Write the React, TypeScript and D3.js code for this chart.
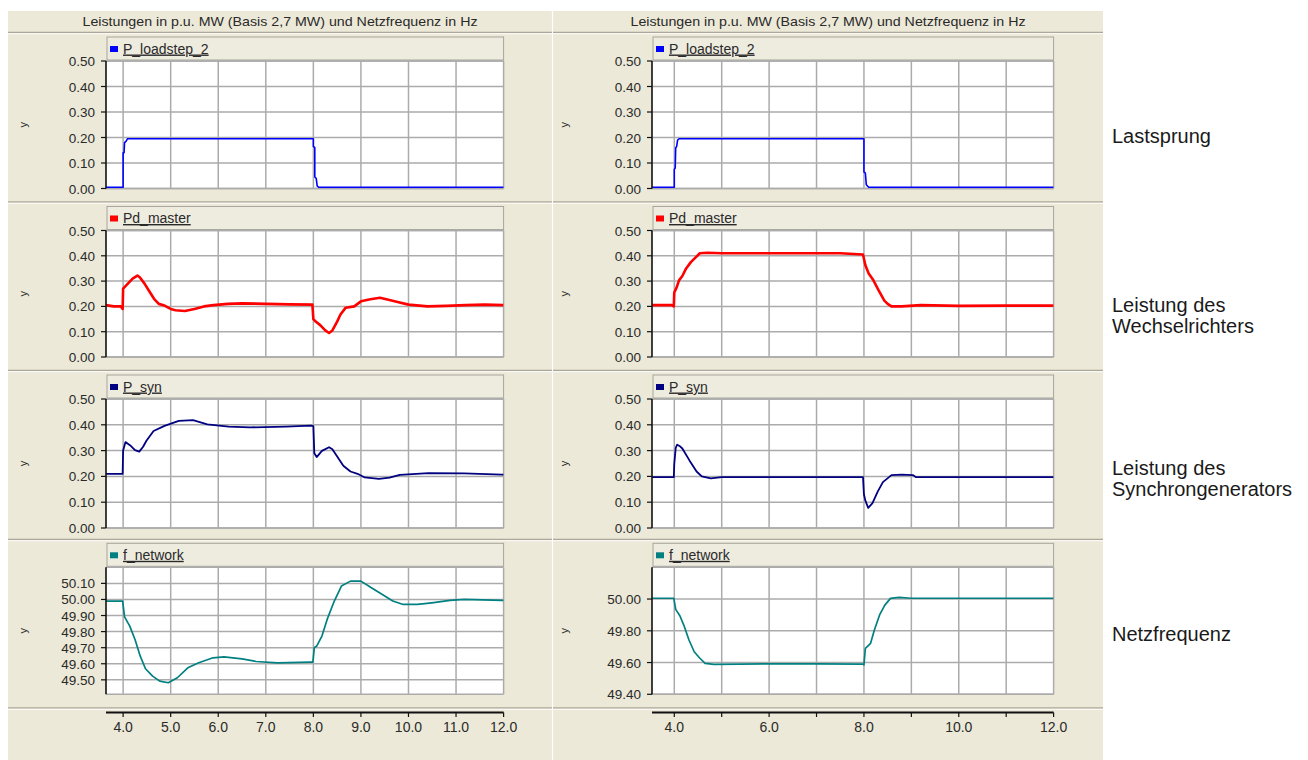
import React from "react";
import * as d3 from "d3";

const headerTitle = "Leistungen in p.u. MW (Basis 2,7 MW) und Netzfrequenz in Hz";
const seriesNames = ["P_loadstep_2", "Pd_master", "P_syn", "f_network"];
const seriesColors = ["#0000FF", "#FF0000", "#000080", "#008080"];
const seriesWidths = [1.6, 2.6, 1.8, 1.7];
const rowLabels = [
  ["Lastsprung"],
  ["Leistung des", "Wechselrichters"],
  ["Leistung des", "Synchrongenerators"],
  ["Netzfrequenz"],
];
const powerTicks = [0, 0.1, 0.2, 0.3, 0.4, 0.5];
const freqTicksLeft = [49.5, 49.6, 49.7, 49.8, 49.9, 50.0, 50.1];
const freqTicksRight = [49.4, 49.6, 49.8, 50.0];
const xGridTicks = [4, 5, 6, 7, 8, 9, 10, 11, 12];
const xLabelsLeft = [4, 5, 6, 7, 8, 9, 10, 11, 12];
const xLabelsRight = [4, 6, 8, 10, 12];

type P = [number, number];

const loadstepLeft: P[] = [[3.64,0.005],[4.0,0.005],[4.0,0.14],[4.02,0.14],[4.03,0.18],[4.06,0.185],[4.09,0.195],[8.0,0.195],[8.0,0.165],[8.03,0.16],[8.03,0.045],[8.06,0.04],[8.08,0.01],[8.11,0.005],[12,0.005]];
const loadstepRight: P[] = [[3.53,0.005],[4.0,0.005],[4.0,0.075],[4.02,0.08],[4.03,0.16],[4.05,0.165],[4.07,0.19],[4.1,0.195],[8.0,0.195],[8.0,0.065],[8.03,0.06],[8.05,0.015],[8.1,0.005],[12,0.005]];

const pdLeft: P[] = [[3.64,0.205],[3.8,0.2],[3.95,0.2],[3.99,0.19],[4.0,0.27],[4.05,0.28],[4.1,0.29],[4.2,0.31],[4.3,0.322],[4.35,0.315],[4.45,0.29],[4.55,0.26],[4.65,0.23],[4.75,0.21],[4.85,0.205],[5.0,0.19],[5.1,0.185],[5.3,0.182],[5.5,0.19],[5.7,0.2],[5.9,0.205],[6.2,0.21],[6.5,0.212],[7.0,0.21],[7.5,0.208],[7.98,0.207],[8.0,0.15],[8.05,0.14],[8.15,0.125],[8.25,0.105],[8.33,0.095],[8.4,0.105],[8.5,0.14],[8.57,0.168],[8.68,0.195],[8.86,0.2],[9.0,0.22],[9.2,0.228],[9.4,0.234],[9.6,0.225],[9.75,0.218],[10.0,0.207],[10.4,0.2],[10.8,0.202],[11.2,0.205],[11.6,0.207],[12,0.205]];
const pdRight: P[] = [[3.53,0.205],[3.95,0.205],[3.99,0.2],[4.0,0.255],[4.05,0.275],[4.1,0.303],[4.17,0.32],[4.25,0.35],[4.35,0.375],[4.43,0.39],[4.54,0.41],[4.7,0.412],[5.0,0.41],[6.0,0.41],[7.0,0.41],[7.5,0.41],[7.98,0.405],[8.03,0.363],[8.1,0.33],[8.2,0.303],[8.31,0.263],[8.43,0.223],[8.5,0.21],[8.58,0.2],[8.8,0.2],[9.2,0.205],[10,0.202],[11,0.203],[12,0.203]];

const synLeft: P[] = [[3.64,0.21],[3.99,0.21],[4.0,0.3],[4.05,0.333],[4.15,0.32],[4.25,0.302],[4.34,0.296],[4.42,0.315],[4.49,0.338],[4.64,0.376],[4.87,0.396],[5.17,0.415],[5.47,0.418],[5.77,0.402],[6.22,0.393],[6.67,0.39],[7.42,0.393],[7.95,0.397],[8.0,0.395],[8.02,0.29],[8.07,0.275],[8.18,0.299],[8.33,0.313],[8.4,0.305],[8.48,0.283],[8.63,0.241],[8.78,0.219],[8.93,0.21],[9.08,0.196],[9.38,0.19],[9.6,0.195],[9.82,0.206],[10.42,0.213],[11.17,0.212],[11.96,0.207],[12,0.207]];
const synRight: P[] = [[3.53,0.197],[3.99,0.197],[4.0,0.249],[4.03,0.31],[4.06,0.323],[4.11,0.318],[4.17,0.308],[4.32,0.262],[4.47,0.219],[4.58,0.2],[4.77,0.192],[5.0,0.197],[6.0,0.197],[7.0,0.197],[7.98,0.197],[8.0,0.13],[8.03,0.106],[8.09,0.078],[8.18,0.096],[8.29,0.141],[8.4,0.178],[8.58,0.205],[8.8,0.207],[9.03,0.205],[9.1,0.197],[10,0.197],[11,0.197],[12,0.197]];

const freqLeft: P[] = [[3.64,49.99],[3.99,49.99],[4.03,49.892],[4.14,49.834],[4.25,49.751],[4.36,49.647],[4.47,49.569],[4.62,49.523],[4.77,49.492],[4.95,49.482],[5.14,49.513],[5.36,49.575],[5.59,49.606],[5.89,49.637],[6.12,49.643],[6.5,49.63],[6.8,49.614],[7.25,49.606],[7.93,49.61],[7.99,49.61],[8.02,49.7],[8.07,49.71],[8.18,49.772],[8.29,49.876],[8.44,49.99],[8.59,50.083],[8.78,50.114],[9.0,50.114],[9.22,50.073],[9.45,50.031],[9.67,49.99],[9.89,49.969],[10.19,49.969],[10.49,49.979],[10.87,49.994],[11.17,50.0],[11.96,49.994],[12,49.994]];
const freqRight: P[] = [[3.53,50.005],[3.99,50.005],[4.03,49.935],[4.12,49.893],[4.2,49.836],[4.31,49.742],[4.42,49.668],[4.54,49.627],[4.65,49.595],[4.84,49.589],[6,49.592],[7,49.592],[7.98,49.59],[8.0,49.585],[8.03,49.69],[8.14,49.721],[8.22,49.805],[8.33,49.9],[8.44,49.962],[8.56,50.004],[8.74,50.01],[9.0,50.005],[12,50.005]];

const dataLeft = [loadstepLeft, pdLeft, synLeft, freqLeft];
const dataRight = [loadstepRight, pdRight, synRight, freqRight];

const FONT = "'Liberation Sans', Arial, sans-serif";
const BEIGE = "#ECE9D8";
const GRID = "#ABABAB";
const SEP = "#ACA899";
const TXT = "#2a2a2a";

const blocks = [
  { x0: 8, x1: 552, plotL: 106, plotR: 503.6, domain: [3.64, 12], yLabX: 27, data: dataLeft, xLabels: xLabelsLeft, freqTicks: freqTicksLeft, freqDomain: [49.41, 50.2] },
  { x0: 553, x1: 1103, plotL: 652, plotR: 1053.6, domain: [3.53, 12], yLabX: 568, data: dataRight, xLabels: xLabelsRight, freqTicks: freqTicksRight, freqDomain: [49.4, 50.2] },
];
const plotTops = [61, 230.5, 399, 567.3];
const plotBottoms = [188.5, 357, 528, 694.3];
const separators = [32.5, 202, 370.5, 539.5, 708];
const xAxisY = 712.5;
const rowLabelBaselines = [[143], [311.5, 333], [474.5, 496], [641]];

function Panel({ b, row }: { b: typeof blocks[number]; row: number }) {
  const top = plotTops[row];
  const bottom = plotBottoms[row];
  const x = d3.scaleLinear().domain(b.domain).range([b.plotL, b.plotR]);
  const isFreq = row === 3;
  const y = d3.scaleLinear().domain(isFreq ? b.freqDomain : [0, 0.5]).range([bottom, top]);
  const ticks = isFreq ? b.freqTicks : powerTicks;
  const line = d3.line<P>().x((d) => x(d[0])).y((d) => y(d[1]));
  const legendTop = top - 24;
  const clipId = `clip-${b.x0}-${row}`;
  return (
    <g>
      <rect x={b.plotL + 1} y={legendTop} width={b.plotR - b.plotL - 1} height={23} fill="#EEEBDF" stroke="#A7A69C" strokeWidth={1} />
      <rect x={b.plotL + 4} y={legendTop + 9} width={8} height={6} fill={seriesColors[row]} />
      <text x={b.plotL + 17} y={legendTop + 16.5} fontSize={14} fontFamily={FONT} fill={TXT} textDecoration="underline">
        {seriesNames[row]}
      </text>
      <rect x={b.plotL} y={top} width={b.plotR - b.plotL} height={bottom - top} fill="#FFFFFF" />
      {xGridTicks.map((t) => (
        <line key={"vx" + t} x1={x(t)} x2={x(t)} y1={top} y2={bottom} stroke={GRID} strokeWidth={1.5} />
      ))}
      {ticks.map((v) => (
        <line key={"hy" + v} x1={b.plotL} x2={b.plotR} y1={y(v)} y2={y(v)} stroke={GRID} strokeWidth={1.5} />
      ))}
      <line x1={b.plotL} x2={b.plotR} y1={top} y2={top} stroke={GRID} strokeWidth={1.5} />
      <line x1={b.plotL} x2={b.plotR} y1={bottom} y2={bottom} stroke={GRID} strokeWidth={1.5} />
      <clipPath id={clipId}>
        <rect x={b.plotL} y={top} width={b.plotR - b.plotL} height={bottom - top} />
      </clipPath>
      <path d={line(b.data[row]) || ""} fill="none" stroke={seriesColors[row]} strokeWidth={seriesWidths[row]} strokeLinejoin="round" clipPath={`url(#${clipId})`} />
      <line x1={b.plotL} x2={b.plotL} y1={top} y2={bottom} stroke="#111" strokeWidth={1.6} />
      {ticks.map((v) => (
        <g key={"yt" + v}>
          <line x1={b.plotL - 5} x2={b.plotL} y1={y(v)} y2={y(v)} stroke="#111" strokeWidth={1.2} />
          <text x={b.plotL - 11} y={y(v) + 5} textAnchor="end" fontSize={13.5} fontFamily={FONT} fill={TXT}>
            {v.toFixed(2)}
          </text>
        </g>
      ))}
      <text transform={`translate(${b.yLabX},${(top + bottom) / 2}) rotate(-90)`} textAnchor="middle" fontSize={11} fontFamily={FONT} fill={TXT}>
        y
      </text>
    </g>
  );
}

function Block({ b }: { b: typeof blocks[number] }) {
  const x = d3.scaleLinear().domain(b.domain).range([b.plotL, b.plotR]);
  return (
    <g>
      <text x={(b.x0 + b.x1) / 2} y={26} textAnchor="middle" fontSize={13} fontFamily={FONT} fill={TXT} textLength={395} lengthAdjust="spacingAndGlyphs">
        {headerTitle}
      </text>
      {separators.map((s) => (
        <g key={"sep" + s}>
          <line x1={b.x0} x2={b.x1} y1={s} y2={s} stroke={SEP} strokeWidth={1.5} />
          <line x1={b.x0} x2={b.x1} y1={s + 1.2} y2={s + 1.2} stroke="#FFFFFF" strokeWidth={1} />
        </g>
      ))}
      {[0, 1, 2, 3].map((r) => (
        <Panel key={r} b={b} row={r} />
      ))}
      <line x1={b.plotL} x2={b.plotR} y1={xAxisY} y2={xAxisY} stroke="#111" strokeWidth={1.8} />
      {xGridTicks.map((t) => (
        <line key={"xt" + t} x1={x(t)} x2={x(t)} y1={xAxisY} y2={xAxisY + 4.5} stroke="#111" strokeWidth={1.2} />
      ))}
      {b.xLabels.map((t) => (
        <text key={"xl" + t} x={x(t)} y={732} textAnchor="middle" fontSize={14} fontFamily={FONT} fill={TXT}>
          {t.toFixed(1)}
        </text>
      ))}
    </g>
  );
}

export default function App() {
  return (
    <svg width={1308} height={760} style={{ position: "fixed", left: 0, top: 0, background: "#FFFFFF" }}>
      <rect x={0} y={0} width={1308} height={760} fill="#FFFFFF" />
      <rect x={8} y={11} width={1095} height={749} fill={BEIGE} />
      <line x1={552.5} x2={552.5} y1={11} y2={760} stroke="#FFFFFF" strokeWidth={1.2} />
      {blocks.map((b, i) => (
        <Block key={i} b={b} />
      ))}
      {rowLabels.map((lines, r) =>
        lines.map((s, k) => (
          <text key={r + "-" + k} x={1112} y={rowLabelBaselines[r][k]} fontSize={20} fontFamily={FONT} fill="#1a1a1a">
            {s}
          </text>
        ))
      )}
    </svg>
  );
}
